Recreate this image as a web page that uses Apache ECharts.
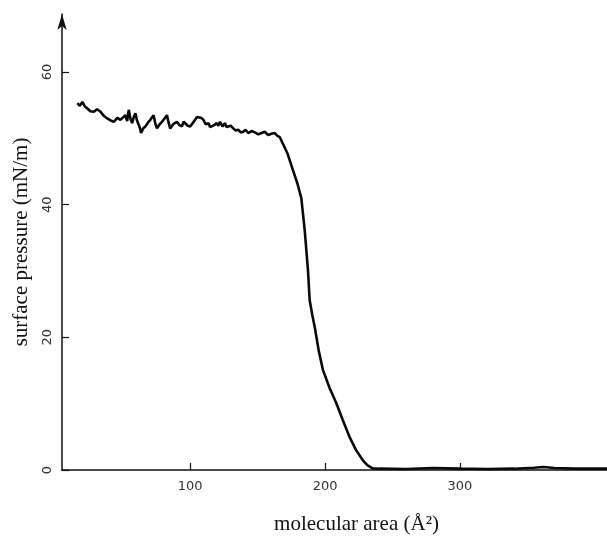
<!DOCTYPE html>
<html>
<head>
<meta charset="utf-8">
<script src="https://cdn.jsdelivr.net/npm/echarts@6/dist/echarts.min.js"></script>
<style>html,body{margin:0;padding:0;background:#fff}#c{width:607px;height:543px}</style>
</head>
<body>
<div id="c"></div>
<script>
// molecular area (Å^2)
const areaX = [16.4,18.2,20.1,22.0,23.8,26.0,28.6,31.0,33.6,36.0,38.5,41.0,43.4,46.0,48.3,50.5,52.0,53.3,54.5,55.8,57.0,58.2,59.4,60.6,61.8,62.7,63.6,65.2,66.8,68.8,70.5,71.7,72.9,74.2,75.4,77.3,79.1,81.0,82.8,84.0,85.2,87.7,90.2,92.0,93.9,95.1,96.3,98.2,100.0,101.9,103.7,104.9,106.1,108.0,109.8,111.6,113.5,114.8,116.0,117.8,119.7,120.9,122.1,124.0,125.8,127.0,128.3,130.1,132.0,133.8,135.6,137.5,139.3,141.1,143.0,145.5,148.0,150.5,152.9,155.3,157.8,160.2,162.7,164.5,166.4,167.7,
  172.0,176.2,179.5,182.4,184.9,187.3,188.6,190.5,192.3,195.3,198.4,203.3,208.3,213.2,218.1,223.0,227.9,231.5,235.3,
  240,260,280,300,320,340,355,362,370,385,409];
// surface pressure (mN/m)
const pressureY = [55.3,54.9,55.5,54.8,54.5,54.1,54.0,54.4,54.0,53.4,53.0,52.7,52.5,53.1,52.8,53.2,53.5,52.6,54.3,52.9,52.3,53.2,53.8,52.7,52.5,51.6,50.8,51.5,51.8,52.4,52.8,53.1,53.5,52.2,51.5,52.1,52.5,53.0,53.5,52.4,51.5,52.2,52.5,52.0,51.8,52.5,52.3,51.9,51.8,52.3,52.8,53.2,53.5,53.1,52.8,52.1,52.3,51.7,51.5,52.0,52.3,51.9,52.5,51.8,52.3,51.7,51.5,51.9,51.5,51.2,51.3,50.9,51.0,51.3,50.8,51.1,50.9,50.6,50.8,51.0,50.5,50.7,50.8,50.4,50.2,50.5,
  47.8,45.2,43.2,41.0,36.2,30.2,25.6,23.4,21.6,18.0,15.1,12.4,10.1,7.5,5.0,3.0,1.5,0.7,0.25,
  0.2,0.15,0.3,0.2,0.15,0.2,0.35,0.45,0.3,0.2,0.2];
const xTickVals = [100,200,300];
const yTickVals = [0,20,40,60];

const data = areaX.map((x,i)=>[x,pressureY[i]]);
const chart = echarts.init(document.getElementById('c'), null, {renderer:'canvas'});
chart.setOption({
  animation:false,
  backgroundColor:'#fff',
  grid:{left:62,right:0,top:14,bottom:73,containLabel:false},
  xAxis:{
    type:'value',min:5,max:409,
    name:'molecular area (Å²)',nameLocation:'middle',nameGap:44,
    nameTextStyle:{fontFamily:'Liberation Serif',fontSize:21,color:'#111',padding:[0,0,0,44]},
    axisLine:{show:true,lineStyle:{color:'#111',width:1.5}},
    axisTick:{show:true,inside:true,length:7,lineStyle:{color:'#111',width:1.2},customValues:xTickVals},
    axisLabel:{show:true,customValues:xTickVals,fontFamily:'DejaVu Sans',fontSize:13,color:'#333',margin:10},
    splitLine:{show:false}
  },
  yAxis:{
    type:'value',min:0,max:68.75,
    name:'surface pressure (mN/m)',nameLocation:'middle',nameGap:30,nameRotate:90,
    nameTextStyle:{fontFamily:'Liberation Serif',fontSize:21,color:'#111'},
    axisLine:{show:true,symbol:['none','arrow'],symbolSize:[7,16],lineStyle:{color:'#111',width:1.5}},
    axisTick:{show:true,inside:true,length:7,lineStyle:{color:'#111',width:1.2},customValues:yTickVals},
    axisLabel:{show:true,customValues:yTickVals,rotate:90,fontFamily:'DejaVu Sans',fontSize:13,color:'#333',margin:8},
    splitLine:{show:false}
  },
  series:[{
    type:'line',data:data,showSymbol:false,symbol:'none',
    lineStyle:{color:'#0a0a0a',width:2.6},z:3
  }]
});
</script>
</body>
</html>
